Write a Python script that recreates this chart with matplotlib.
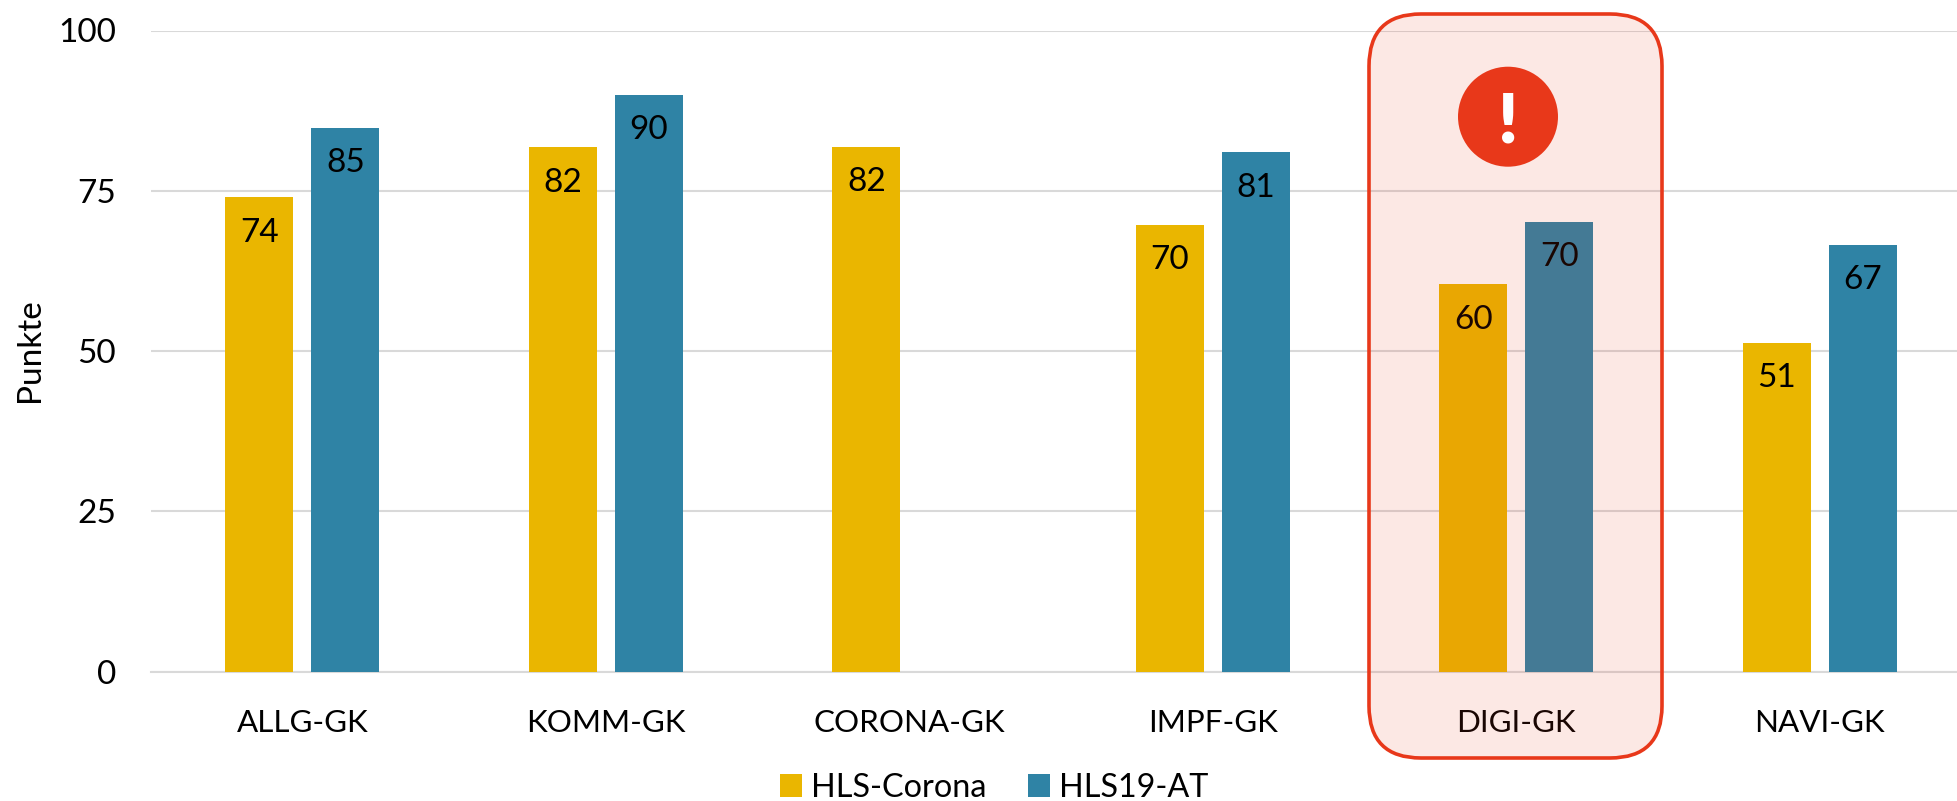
import matplotlib
matplotlib.use('Agg')
import matplotlib.pyplot as plt
from matplotlib.patches import FancyBboxPatch, Circle
from matplotlib.transforms import IdentityTransform
import numpy as np

plt.rcParams['font.family'] = ['Lato', 'DejaVu Sans']

# Data
categories = ['ALLG-GK', 'KOMM-GK', 'CORONA-GK', 'IMPF-GK', 'DIGI-GK', 'NAVI-GK']
hls_corona = [74.0, 81.8, 81.9, 69.7, 60.4, 51.3]
hls19_at = [84.8, 90.0, None, 81.0, 70.2, 66.6]
yticks = [0, 25, 50, 75, 100]

W, H = 1957, 801
YELLOW = '#EAB600'
BLUE = '#2F83A5'
RED = '#E8381A'
GRID = '#D9D9D9'

fig = plt.figure(figsize=(W / 100, H / 100), dpi=100)
ax = fig.add_axes([150.6 / W, (H - 671.7) / H, (W - 150.6) / W, (671.7 - 30.5) / H])

x = np.arange(len(categories))
width = 0.224
offset = 0.1417

# Corona-GK has no HLS19-AT bar
x_blue = [i for i, v in zip(x, hls19_at) if v is not None]
v_blue = [v for v in hls19_at if v is not None]

b1 = ax.bar(x - offset, hls_corona, width, color=YELLOW, label='HLS-Corona', zorder=3)
b2 = ax.bar(np.array(x_blue) + offset, v_blue, width, color=BLUE, label='HLS19-AT', zorder=3)

for bars in (b1, b2):
    for r in bars:
        ax.annotate(f'{r.get_height():.0f}', (r.get_x() + r.get_width() / 2, r.get_height()),
                    xytext=(0, -25.5), textcoords='offset points', ha='center', va='center',
                    fontsize=24, color='black', zorder=4)

ax.set_xlim(-0.5, -0.5 + (W - 150.6) / 303.5)
ax.set_ylim(0, 100)
ax.set_yticks(yticks)
ax.set_xticks(x)
ax.set_xticklabels(categories)
ax.tick_params(axis='x', length=0, pad=27, labelsize=22.6)
ax.tick_params(axis='y', length=0, pad=25, labelsize=24)
ax.grid(axis='y', color=GRID, linewidth=1.5, zorder=0)
ax.set_axisbelow(True)
for name, sp in ax.spines.items():
    sp.set_visible(name == 'bottom')
ax.spines['bottom'].set_color(GRID)
ax.spines['bottom'].set_linewidth(1.5)

fig.text(30 / W, (H - 350) / H, 'Punkte', rotation=90, ha='center', va='center', fontsize=24)

leg = fig.legend(handles=[b1, b2], loc='center', bbox_to_anchor=(994 / W, (H - 788) / H), ncols=2,
                 frameon=False, fontsize=23.3, handlelength=0.69, handleheight=0.7,
                 handletextpad=0.25, columnspacing=1.3, borderpad=0, borderaxespad=0)

# Highlight box on top of the DIGI-GK group, in pixels
px = IdentityTransform()
r = 52
box_fill = FancyBboxPatch((1369 + r, H - 758 + r), 293 - 2 * r, 744 - 2 * r,
                          boxstyle=f'round,pad={r},rounding_size={r}', transform=px,
                          facecolor=RED, edgecolor='none', alpha=0.115, zorder=5)
box_edge = FancyBboxPatch((1369 + r, H - 758 + r), 293 - 2 * r, 744 - 2 * r,
                          boxstyle=f'round,pad={r},rounding_size={r}', transform=px,
                          facecolor='none', edgecolor=RED, linewidth=2.6, zorder=5)
fig.add_artist(box_fill)
fig.add_artist(box_edge)
fig.add_artist(Circle((1508, H - 116.7), 50, transform=px, facecolor=RED, edgecolor='none', zorder=6))
fig.text(1508, H - 116.7, '!', transform=px, ha='center', va='center_baseline', color='white',
         fontsize=50, fontweight='heavy', zorder=7)

fig.savefig('out.png', dpi=100)
